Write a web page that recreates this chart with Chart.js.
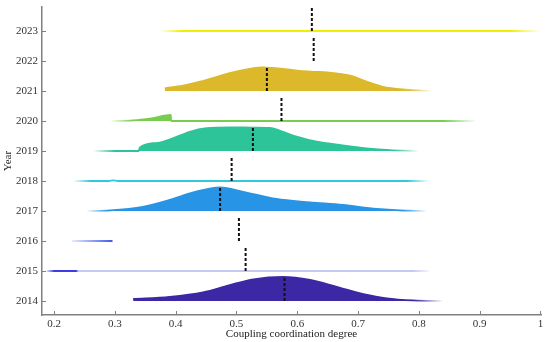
<!DOCTYPE html>
<html>
<head>
<meta charset="utf-8">
<script src="https://cdn.jsdelivr.net/npm/chart.js@4.4.0/dist/chart.umd.min.js"></script>
<style>
  html, body { margin: 0; padding: 0; background: #fff; }
</style>
</head>
<body>
<canvas id="ridge" width="550" height="342"></canvas>
<script>
// Years on the y axis and the median of each year (dashed marks)
var years   = [2014, 2015, 2016, 2017, 2018, 2019, 2020, 2021, 2022, 2023];
var medians = [0.579, 0.515, 0.504, 0.473, 0.492, 0.527, 0.574, 0.550, 0.627, 0.624];
var xTicks  = [0.2, 0.3, 0.4, 0.5, 0.6, 0.7, 0.8, 0.9, 1];

// density ridges: x values and heights (in year units above the baseline)
var x2014 = [0.330, 0.390, 0.445, 0.489, 0.528, 0.577, 0.621, 0.665, 0.709, 0.747, 0.791, 0.840];
var h2014 = [0.07, 0.14, 0.29, 0.53, 0.72, 0.80, 0.70, 0.47, 0.23, 0.09, 0.02, 0];
var x2015 = [0.187, 0.817];
var h2015 = [0, 0];
var x2016 = [0.229, 0.296];
var h2016 = [0, 0];
var x2017 = [0.253, 0.292, 0.346, 0.390, 0.429, 0.473, 0.511, 0.566, 0.621, 0.675, 0.731, 0.769, 0.813];
var h2017 = [0, 0.02, 0.14, 0.37, 0.62, 0.79, 0.64, 0.40, 0.29, 0.20, 0.07, 0.02, 0];
var x2018 = [0.231, 0.290, 0.297, 0.305, 0.818];
var h2018 = [0, 0, 0.02, 0, 0];
var x2019 = [0.264, 0.300, 0.339, 0.341, 0.370, 0.395, 0.423, 0.451, 0.490, 0.527, 0.555, 0.571, 0.599, 0.632, 0.670, 0.714, 0.753, 0.800];
var h2019 = [0, 0, 0, 0.12, 0.27, 0.42, 0.64, 0.76, 0.79, 0.78, 0.77, 0.68, 0.48, 0.31, 0.20, 0.09, 0.03, 0];
var x2020 = [0.292, 0.330, 0.360, 0.392, 0.3925, 0.500, 0.700, 0.895];
var h2020 = [0, 0.02, 0.09, 0.20, 0, 0, 0, 0];
var x2021 = [0.382, 0.412, 0.440, 0.494, 0.543, 0.604, 0.630, 0.649, 0.687, 0.714, 0.741, 0.774, 0.823];
var h2021 = [0.09, 0.18, 0.31, 0.62, 0.79, 0.67, 0.64, 0.62, 0.51, 0.31, 0.14, 0.05, 0];
var x2022 = [];
var h2022 = [];
var x2023 = [0.374, 1.0];
var h2023 = [0, 0];

var ridgeX = [x2014, x2015, x2016, x2017, x2018, x2019, x2020, x2021, x2022, x2023];
var ridgeH = [h2014, h2015, h2016, h2017, h2018, h2019, h2020, h2021, h2022, h2023];

// colours, with fading ends
function rgba(c, a) { return 'rgba(' + c + ',' + a + ')'; }
var styles = [
  { c: '60,40,165',  fade: [[0.33, 1], [0.79, 1], [0.84, 0]] },
  { c: '200,200,245', fade: null },
  { c: '60,90,235',  fade: [[0.229, 0.12], [0.296, 1]] },
  { c: '40,148,230', fade: [[0.253, 0], [0.29, 1], [0.77, 1], [0.813, 0]] },
  { c: '50,200,220', fade: [[0.231, 0], [0.26, 1], [0.78, 1], [0.818, 0]] },
  { c: '46,196,154', fade: [[0.264, 0], [0.30, 1], [0.75, 1], [0.80, 0]] },
  { c: '120,205,80', fade: [[0.292, 0], [0.33, 1], [0.84, 1], [0.895, 0]] },
  { c: '219,185,42', fade: [[0.382, 1], [0.77, 1], [0.823, 0]] },
  { c: '0,0,0',      fade: [[0, 0], [1, 0]] },
  { c: '242,238,0',  fade: [[0.374, 0], [0.41, 1], [0.95, 1], [1.0, 0]] }
];
styles.forEach(function (s) {
  if (s.fade) s.stops = s.fade.map(function (f) { return [f[0], rgba(s.c, f[1])]; });
});
// 2015: short dark piece at the left, then a pale line
styles[1].stops = [[0.187, 'rgba(60,60,230,0.1)'], [0.2, 'rgba(60,60,230,1)'], [0.236, 'rgba(60,60,230,1)'],
                   [0.24, 'rgba(200,200,245,1)'], [0.79, 'rgba(200,200,245,1)'], [0.817, 'rgba(200,200,245,0.2)']];

function gradient(stops) {
  return function (ctx) {
    var chart = ctx.chart, xs = chart.scales.x;
    if (!chart.chartArea || !xs) return stops[0][1];
    var x0 = xs.getPixelForValue(stops[0][0]);
    var x1 = xs.getPixelForValue(stops[stops.length - 1][0]);
    var g = chart.ctx.createLinearGradient(x0, 0, x1, 0);
    stops.forEach(function (s) {
      var o = (xs.getPixelForValue(s[0]) - x0) / (x1 - x0);
      g.addColorStop(Math.min(1, Math.max(0, o)), s[1]);
    });
    return g;
  };
}

var datasets = [];
years.forEach(function (yr, i) {
  var xs = ridgeX[i], hs = ridgeH[i];
  if (!xs.length) return;
  var grad = gradient(styles[i].stops);
  datasets.push({
    data: xs.map(function (x, k) { return { x: x, y: yr + hs[k] }; }),
    showLine: true,
    fill: { value: yr },
    backgroundColor: grad,
    borderColor: grad,
    borderWidth: 1.8,
    pointRadius: 0,
    cubicInterpolationMode: 'monotone',
    order: 2
  });
});
years.forEach(function (yr, i) {
  datasets.push({
    data: [{ x: medians[i], y: yr }, { x: medians[i], y: yr + 0.77 }],
    showLine: true,
    fill: false,
    borderColor: '#111',
    borderWidth: 2,
    borderDash: [3, 2],
    pointRadius: 0,
    order: 0
  });
});

// small tick marks drawn inside the axes
var innerTicks = {
  id: 'innerTicks',
  afterDraw: function (chart) {
    var c = chart.ctx, xs = chart.scales.x, ys = chart.scales.y;
    c.save();
    c.strokeStyle = '#808080';
    c.lineWidth = 1;
    xTicks.forEach(function (v) {
      var p = Math.round(xs.getPixelForValue(v)) + 0.5;
      c.beginPath(); c.moveTo(p, ys.bottom); c.lineTo(p, ys.bottom - 4); c.stroke();
    });
    years.forEach(function (v) {
      var p = Math.round(ys.getPixelForValue(v)) + 0.5;
      c.beginPath(); c.moveTo(xs.left, p); c.lineTo(xs.left + 4, p); c.stroke();
    });
    c.restore();
  }
};

var font = { family: '"Liberation Serif", "Times New Roman", serif', size: 11 };

new Chart(document.getElementById('ridge'), {
  type: 'scatter',
  data: { datasets: datasets },
  plugins: [innerTicks],
  options: {
    responsive: false,
    animation: false,
    layout: { padding: { top: 7, right: 9, left: 0, bottom: 0 } },
    plugins: { legend: { display: false }, tooltip: { enabled: false } },
    scales: {
      x: {
        type: 'linear',
        min: 0.18,
        max: 1.001,
        afterBuildTicks: function (s) { s.ticks = xTicks.map(function (v) { return { value: v }; }); },
        afterFit: function (s) { s.height = 27; s.paddingLeft = 0; s.paddingRight = 0; },
        ticks: {
          font: font, color: '#333', padding: 3, maxRotation: 0,
          callback: function (v) { return String(+v.toFixed(1)); }
        },
        grid: { display: false, drawTicks: false },
        border: { display: true, color: '#808080', width: 1.5 },
        title: { display: true, text: 'Coupling coordination degree', font: font, color: '#222', padding: { top: 0, bottom: 1 } }
      },
      y: {
        type: 'linear',
        min: 2013.533,
        max: 2023.8,
        afterBuildTicks: function (s) { s.ticks = years.map(function (v) { return { value: v }; }); },
        afterFit: function (s) { s.width = 42; s.paddingTop = 0; s.paddingBottom = 0; },
        ticks: { font: font, color: '#333', padding: 4, callback: function (v) { return String(v); } },
        grid: { display: false, drawTicks: false },
        border: { display: true, color: '#808080', width: 1.5 },
        title: { display: true, text: 'Year', font: font, color: '#222', padding: { top: 2, bottom: 0 } }
      }
    }
  }
});
</script>
</body>
</html>
